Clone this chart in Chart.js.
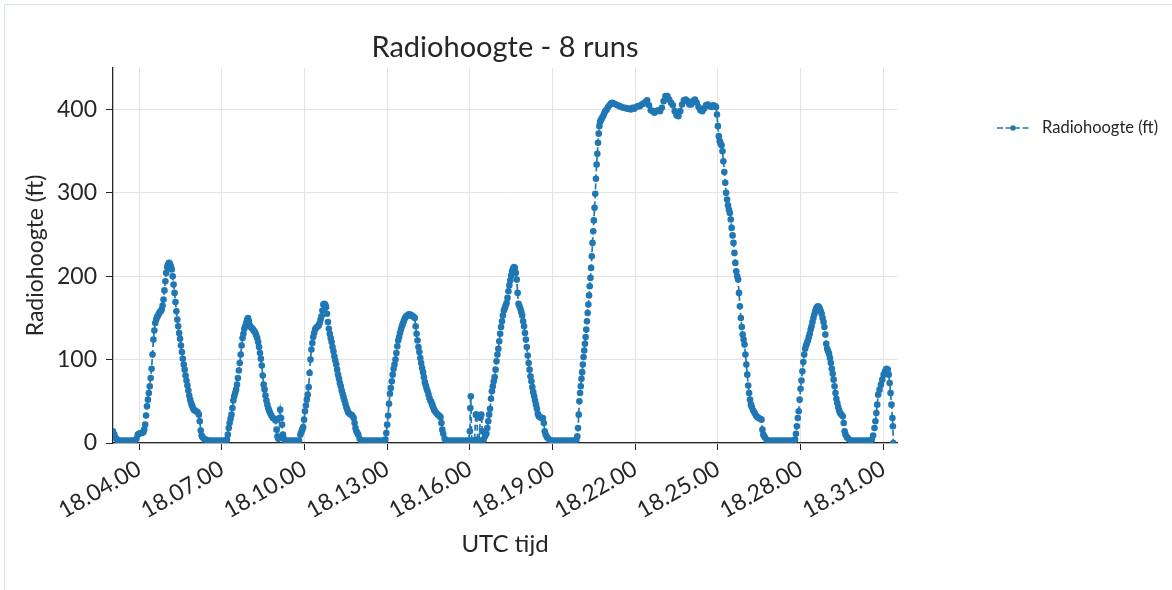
<!DOCTYPE html>
<html>
<head>
<meta charset="utf-8">
<title>Radiohoogte - 8 runs</title>
<script src="https://cdn.jsdelivr.net/npm/chart.js@4.4.0/dist/chart.umd.min.js"></script>
<style>
  html, body { margin: 0; padding: 0; background: #fff; }
  .kader { position: absolute; left: 4px; top: 4px; width: 2000px; height: 2000px; border: 1px solid #d3e5f2; }
  #grafiek { position: absolute; left: 0; top: 0; }
</style>
</head>
<body>
<div class="kader"></div>
<canvas id="grafiek" width="1172" height="590"></canvas>
<script>
// tijd in seconden na 18:00:00 UTC, hoogte in ft
const run1 = [[183,14],[186,10],[189,6],[192,4],[195,3],[200,3],[206,3],[212,3],[218,3],[224,3],[230,3],[234,5],[237,10],[240,11],[243,12],
  [246,12],[249,13],[251,16],[253,22],[255,33],[257,44],[259,52],[261,60],[263,68],[265,78],[267,89],[269,106],[271,124],[273,135],[275,144],
  [277,148],[279,151],[281,153],[283,155],[285,157],[287,158],[289,160],[291,165],[293,172],[295,183],[297,194],[299,204],[301,211],[303,214],
  [305,216],[307,215],[309,212],[311,208],[313,200],[315,190],[317,180],[319,169],[321,158],[323,148],[325,140],[327,132],[329,125],[331,117],
  [333,109],[335,101],[337,94],[339,88],[341,81],[343,75],[345,69],[347,63],[349,57],[351,52],[353,48],[355,45],[357,42],[359,40],[361,39],
  [364,38],[367,37],[370,34],[372,26],[374,15],[376,9],[378,7],[381,5],[385,4],[390,3],[396,3],[402,3],[408,3],[414,3],[420,3],[426,3]];
const run2 = [[431,4],[433,10],[435,18],[437,24],[439,29],[441,34],[443,42],[445,51],[447,56],[449,60],[451,64],[453,70],[455,78],[457,87],
  [459,96],[461,106],[463,117],[465,126],[467,131],[469,137],[471,140],[473,144],[475,148],[477,150],[479,146],[481,141],[483,139],[485,138],
  [487,137],[489,135],[491,134],[493,132],[495,129],[497,126],[499,121],[501,115],[503,108],[505,101],[507,93],[509,81],[511,70],[513,64],
  [515,57],[517,51],[519,46],[521,42],[523,39],[525,36],[528,33],[531,30],[534,29],[537,27],[539,16],[541,8],[543,5],[545,30],[547,40],
  [549,30],[551,22],[553,10],[555,5],[558,3],[564,3],[570,3],[576,3],[582,3],[588,3]];
const run3 = [[591,10],[593,13],[595,16],[597,19],[599,28],[601,38],[603,45],[605,52],[607,58],[609,67],[611,84],[613,100],[615,112],[617,120],
  [619,127],[621,132],[623,136],[625,138],[627,139],[629,140],[631,141],[633,144],[635,148],[637,152],[639,159],[641,166],[643,167],[645,166],
  [647,163],[649,155],[651,145],[653,137],[655,131],[657,126],[659,121],[661,115],[663,110],[665,104],[667,99],[669,94],[671,88],[673,82],
  [675,77],[677,72],[679,68],[681,63],[683,59],[685,55],[687,51],[689,47],[691,43],[693,40],[695,37],[698,35],[701,34],[704,33],[707,30],
  [709,24],[711,18],[713,14],[715,12],[717,10],[720,5],[724,3],[730,3],[736,3],[742,3],[748,3],[754,3],[760,3],[766,3],[772,3]];
const run4 = [[776,4],[778,12],[780,22],[782,33],[784,47],[786,59],[788,66],[790,74],[792,82],[794,89],[796,94],[798,100],[800,108],[802,116],
  [804,123],[806,127],[808,132],[810,136],[812,140],[814,143],[816,146],[818,149],[820,151],[822,152],[824,153],[826,154],[828,154],[830,154],
  [832,153],[834,153],[836,152],[838,151],[840,150],[842,140],[844,131],[846,123],[848,115],[850,109],[852,102],[854,96],[856,90],[858,85],
  [860,79],[862,73],[864,69],[866,65],[868,62],[870,58],[872,54],[874,51],[876,49],[878,46],[880,43],[882,40],[884,38],[887,36],[890,34],
  [893,33],[896,31],[898,24],[900,16],[902,11],[905,5],[909,3],[915,3],[921,3],[927,3],[933,3],[939,3],[945,3],[951,3],[957,3]];
const run5 = [[960,14],[961,42],[962,56],[964,3],[967,3],[970,3],[973,34],[975,34],[977,4],[980,3],[983,30],[985,34],[987,14],[990,4],[993,8],
  [996,11],[998,18],[1000,26],[1002,34],[1004,41],[1006,53],[1008,62],[1010,68],[1012,74],[1014,79],[1016,88],[1018,98],[1020,106],
  [1022,113],[1024,122],[1026,131],[1028,139],[1030,146],[1032,153],[1034,159],[1036,162],[1038,165],[1040,168],[1042,174],[1044,182],
  [1046,189],[1048,195],[1050,201],[1052,206],[1054,209],[1056,211],[1058,210],[1060,204],[1062,196],[1064,180],[1066,167],[1068,164],
  [1070,161],[1072,157],[1074,153],[1076,146],[1078,140],[1080,132],[1082,124],[1084,115],[1086,105],[1088,96],[1090,88],[1092,80],
  [1094,74],[1096,67],[1098,61],[1100,56],[1102,51],[1104,46],[1106,41],[1108,35],[1110,32],[1113,31],[1116,30],[1119,30],[1121,24],
  [1123,14],[1125,10],[1128,7],[1131,5],[1136,3],[1142,3],[1148,3],[1154,3],[1160,3],[1166,3],[1172,3],[1178,3],[1184,3]];
const run6 = [[1189,3],[1192,4],[1194,8],[1195.5,18],[1197,34],[1198.5,50],[1200,60],[1201.5,68],[1203,77],[1204.5,85],[1206,94],[1207.5,103],
  [1209,111],[1210.5,119],[1212,127],[1213.5,136],[1215,146],[1216.5,156],[1218,166],[1219.5,177],[1221,188],[1222.5,198],[1224,210],
  [1225.5,224],[1227,240],[1228.5,254],[1230,267],[1231.5,282],[1233,299],[1234.5,317],[1236,334],[1237.5,347],[1239,360],[1240.5,371],
  [1242,380],[1243.5,385],[1245,387],[1247,389],[1249,391],[1251,393],[1253,396],[1255,398],[1258,400],[1261,403],[1264,405],[1267,407],
  [1270,408],[1274,407],[1278,406],[1282,405],[1286,404],[1290,403],[1294,402],[1298,402],[1302,401],[1306,401],[1310,400],[1314,402],
  [1318,401],[1322,403],[1326,404],[1330,404],[1334,406],[1338,407],[1342,409],[1346,411],[1350,405],[1354,399],[1358,398],[1362,396],
  [1366,398],[1370,399],[1374,398],[1378,402],[1382,410],[1386,416],[1390,416],[1394,412],[1398,408],[1402,405],[1406,398],[1410,393],
  [1414,392],[1418,398],[1422,406],[1426,411],[1430,412],[1434,410],[1438,406],[1442,406],[1446,410],[1450,412],[1454,408],[1458,403],
  [1462,399],[1466,398],[1470,401],[1474,405],[1478,406],[1482,404],[1486,403],[1490,405],[1494,404],[1496,403],[1498,394],[1500,380],
  [1502,368],[1504,362],[1506,359],[1508,357],[1510,350],[1512,338],[1514,325],[1516,312],[1518,300],[1520,292],[1522,285],[1524,280],
  [1526,276],[1528,268],[1530,258],[1532,249],[1534,240],[1536,228],[1538,216],[1540,206],[1542,200],[1544,196],[1546,180],[1548,164],
  [1550,150],[1552,139],[1554,130],[1556,124],[1558,118],[1560,106],[1562,94],[1564,82],[1566,69],[1568,60],[1570,52],[1572,46],[1574,43],
  [1577,39],[1580,36],[1583,33],[1586,31],[1589,30],[1592,29],[1595,28],[1597,16],[1599,10],[1602,7],[1606,4],[1611,3],[1617,3],[1623,3],
  [1629,3],[1635,3],[1641,3],[1647,3],[1653,3],[1659,3],[1665,3]];
const run7 = [[1668,4],[1670,11],[1672,20],[1674,30],[1676,38],[1678,52],[1680,65],[1682,75],[1684,86],[1686,97],[1688,106],[1690,113],
  [1692,117],[1694,120],[1696,123],[1698,127],[1700,131],[1702,136],[1704,140],[1706,145],[1708,150],[1710,154],[1712,158],[1714,161],
  [1716,163],[1718,164],[1720,163],[1722,161],[1724,158],[1726,155],[1728,150],[1730,145],[1732,139],[1734,130],[1736,119],[1738,113],
  [1740,110],[1742,107],[1744,102],[1746,96],[1748,89],[1750,83],[1752,76],[1754,68],[1756,60],[1758,53],[1760,48],[1762,43],[1764,39],
  [1766,36],[1769,34],[1772,32],[1774,24],[1776,14],[1778,10],[1781,7],[1784,5],[1790,3],[1796,3],[1802,3],[1808,3],[1814,3],[1820,3],
  [1826,3],[1832,3]];
const run8 = [[1835,4],[1838,9],[1841,18],[1843,26],[1845,36],[1847,46],[1849,58],[1852,64],[1855,70],[1858,76],[1861,82],[1864,86],
  [1867,89],[1870,88],[1872,82],[1874,72],[1876,60],[1878,46],[1880,30],[1881,20],[1882,0]];

const tijdTicks = [240, 420, 600, 780, 960, 1140, 1320, 1500, 1680, 1860];
const hoogteTicks = [0, 100, 200, 300, 400];

const blauw = '#1f77b4';
const tekstKleur = '#262626';
const letter = 'Lato, "Open Sans", sans-serif';

const punten = [run1, run2, run3, run4, run5, run6, run7, run8]
  .flat()
  .map(([t, ft]) => ({ x: t, y: ft }));

// 1234 seconden -> "18.20.34"
function tijdLabel(sec) {
  const pad = n => String(n).padStart(2, '0');
  const h = 18 + Math.floor(sec / 3600);
  const m = Math.floor((sec % 3600) / 60);
  const s = Math.round(sec % 60);
  return h + '.' + pad(m) + '.' + pad(s);
}

// eigen legenda rechts naast de grafiek: --•-- Radiohoogte (ft)
const legendaPlugin = {
  id: 'legenda',
  afterDraw(chart) {
    const ds = chart.data.datasets[0];
    const c = chart.ctx;
    const x0 = chart.chartArea.right + 100;
    const x1 = x0 + 32;
    const y = 128;
    c.save();
    c.strokeStyle = ds.borderColor;
    c.lineWidth = ds.borderWidth;
    c.setLineDash([6, 2.5]);
    c.beginPath();
    c.moveTo(x0, y);
    c.lineTo(x1, y);
    c.stroke();
    c.setLineDash([]);
    c.fillStyle = ds.backgroundColor;
    c.beginPath();
    c.arc((x0 + x1) / 2, y, 2.7, 0, Math.PI * 2);
    c.fill();
    c.fillStyle = tekstKleur;
    c.font = '16.5px ' + letter;
    c.textBaseline = 'middle';
    c.fillText(ds.label, x1 + 13, y);
    c.restore();
  }
};

const ctx = document.getElementById('grafiek').getContext('2d');
new Chart(ctx, {
  type: 'line',
  data: {
    datasets: [{
      label: 'Radiohoogte (ft)',
      data: punten,
      borderColor: blauw,
      backgroundColor: blauw,
      borderWidth: 1.7,
      borderDash: [6, 3],
      pointRadius: 3.3,
      pointBorderWidth: 0,
      pointHoverRadius: 3.3,
      tension: 0,
      fill: false,
    }],
  },
  options: {
    responsive: false,
    animation: false,
    layout: { padding: { left: 0, right: 275, top: 0, bottom: 0 } },
    plugins: {
      legend: { display: false },
      tooltip: { enabled: false },
      title: {
        display: true,
        text: 'Radiohoogte - 8 runs',
        fullSize: false,
        color: tekstKleur,
        font: { family: letter, size: 29, weight: 'normal', lineHeight: 1.2 },
        padding: { top: 30, bottom: 3 },
      },
    },
    scales: {
      x: {
        type: 'linear',
        min: 183,
        max: 1890,
        afterBuildTicks: (scale) => { scale.ticks = tijdTicks.map(v => ({ value: v })); },
        afterFit: (scale) => { scale.height = 147; },
        ticks: {
          autoSkip: false,
          minRotation: 30,
          maxRotation: 30,
          padding: 5,
          color: tekstKleur,
          font: { family: letter, size: 23 },
          callback: (v) => tijdLabel(v),
        },
        grid: { color: '#e3e3e3', tickColor: tekstKleur, tickLength: 7, lineWidth: 1 },
        border: { color: tekstKleur, width: 1.3 },
        title: {
          display: true,
          text: 'UTC tijd',
          color: tekstKleur,
          font: { family: letter, size: 24 },
          padding: { top: 0, bottom: 31 },
        },
      },
      y: {
        min: 0,
        max: 450,
        afterBuildTicks: (scale) => { scale.ticks = hoogteTicks.map(v => ({ value: v })); },
        afterFit: (scale) => { scale.width = 113; },
        ticks: {
          padding: 9,
          color: tekstKleur,
          font: { family: letter, size: 23 },
        },
        grid: { color: '#e3e3e3', tickColor: tekstKleur, tickLength: 7, lineWidth: 1 },
        border: { color: tekstKleur, width: 1.3 },
        title: {
          display: true,
          text: 'Radiohoogte (ft)',
          color: tekstKleur,
          font: { family: letter, size: 23 },
          padding: { top: 22, bottom: 0 },
        },
      },
    },
  },
  plugins: [legendaPlugin],
});
</script>
</body>
</html>
